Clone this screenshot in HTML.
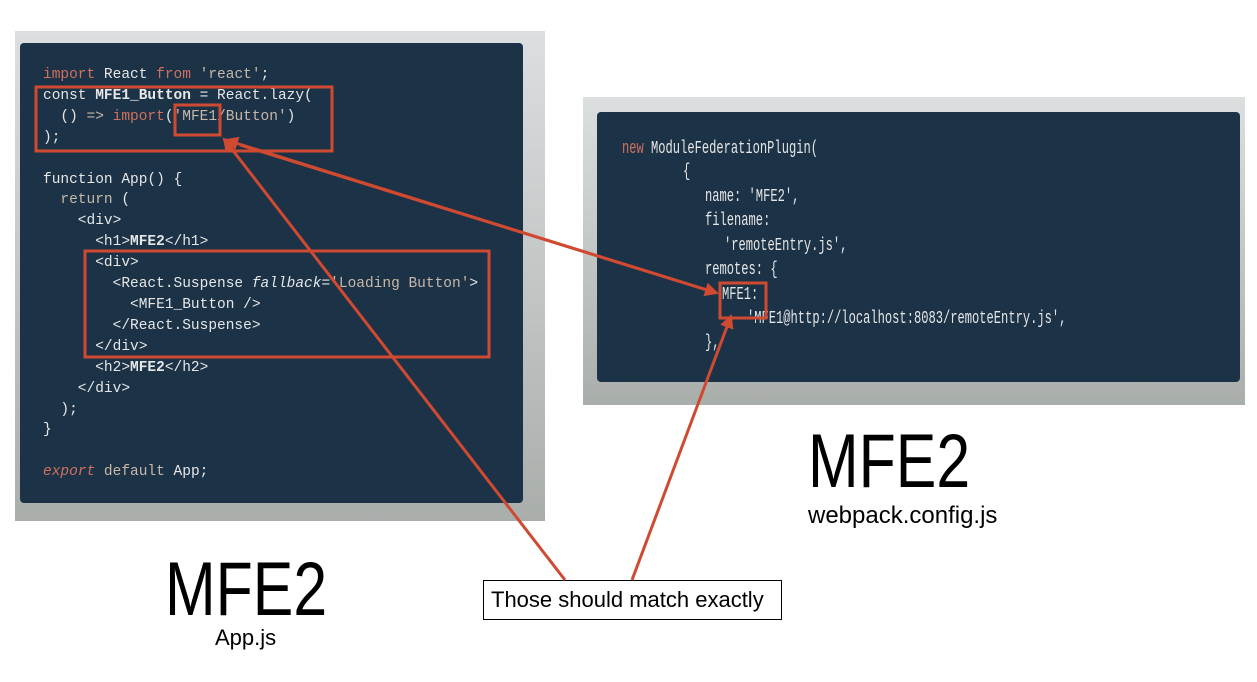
<!DOCTYPE html>
<html><head><meta charset="utf-8"><style>
body{margin:0;width:1257px;height:682px;background:#fff;position:relative;overflow:hidden;font-family:"Liberation Sans",sans-serif}
.frame{position:absolute;background:#c9cdcc}
.panel{position:absolute;background:#1b3247;border-radius:4px}
.code{position:absolute;font-family:"Liberation Mono",monospace;color:#e6e6e6}
.code div{white-space:pre}
.l{position:absolute;white-space:pre;transform:scaleX(0.672);transform-origin:0 0}
.k{color:#d0705e}.g{color:#c8b8a8}.i{font-style:italic}
.big{position:absolute;font-size:76px;color:#000;transform-origin:0 0;transform:scaleX(0.8);line-height:1}
.lbl{position:absolute;color:#000;transform-origin:0 0;line-height:1}
</style></head><body>
<div class="frame" style="left:15px;top:31px;width:530px;height:490px;background:linear-gradient(#dcdfe0,#a9aeab)"></div>
<div class="panel" style="left:20px;top:43px;width:503px;height:460px"></div>
<div class="frame" style="left:583px;top:97px;width:662px;height:308px;background:linear-gradient(#dcdfe0,#a9aeab)"></div>
<div class="panel" style="left:597px;top:112px;width:643px;height:270px"></div>

<div class="code" style="left:43px;top:65px;font-size:14.5px;line-height:20.9px"><div><span class="k">import</span> React <span class="k">from</span> <span class="g">'react'</span>;</div><div>const <b>MFE1_Button</b> = React.lazy(</div><div>  () <span class="g">=&gt;</span> <span class="k">import</span>(<span class="g">'MFE1/Button'</span>)</div><div>);</div><div> </div><div>function App() {</div><div>  <span class="g">return</span> (</div><div>    &lt;div&gt;</div><div>      &lt;h1&gt;<b>MFE2</b>&lt;/h1&gt;</div><div>      &lt;div&gt;</div><div>        &lt;React.Suspense <span class="i">fallback</span>=<span class="g">'Loading Button'</span>&gt;</div><div>          &lt;MFE1_Button /&gt;</div><div>        &lt;/React.Suspense&gt;</div><div>      &lt;/div&gt;</div><div>      &lt;h2&gt;<b>MFE2</b>&lt;/h2&gt;</div><div>    &lt;/div&gt;</div><div>  );</div><div>}</div><div> </div><div><span class="k i">export</span> <span class="g">default</span> App;</div></div>

<div class="code" style="left:0;top:0;font-size:18px;line-height:20px">
<div class="l" style="left:622px;top:139px"><span class="k">new</span> ModuleFederationPlugin(</div>
<div class="l" style="left:683px;top:162px">{</div>
<div class="l" style="left:705px;top:187px">name: 'MFE2',</div>
<div class="l" style="left:705px;top:211px">filename:</div>
<div class="l" style="left:724px;top:236px">'remoteEntry.js',</div>
<div class="l" style="left:705px;top:260px">remotes: {</div>
<div class="l" style="left:722px;top:285px">MFE1:</div>
<div class="l" style="left:747px;top:309px">'MFE1@http://localhost:8083/remoteEntry.js',</div>
<div class="l" style="left:705px;top:333px">},</div>
</div>

<div class="big" style="left:165px;top:552px">MFE2</div>
<div class="lbl" style="left:215px;top:627px;font-size:22px">App.js</div>
<div class="big" style="left:808px;top:424px">MFE2</div>
<div class="lbl" style="left:808px;top:504px;font-size:24px">webpack.config.js</div>
<div style="position:absolute;left:483px;top:580px;width:297px;height:38px;border:1.5px solid #000;background:#fff"></div>
<div class="lbl" style="left:491px;top:589px;font-size:22px">Those should match exactly</div>

<svg width="1257" height="682" style="position:absolute;left:0;top:0">
<defs><marker id="b" markerWidth="14" markerHeight="14" refX="12" refY="7" orient="auto" markerUnits="userSpaceOnUse"><path d="M0,0 L14,7 L0,14z" fill="#d04a32"/></marker></defs>
<g fill="none" stroke="#d04a32" stroke-width="3">
<rect x="36" y="87" width="296" height="64"/>
<rect x="175" y="105" width="45" height="30"/>
<rect x="85" y="251" width="404" height="106"/>
<rect x="720" y="283" width="46" height="35"/>
<line x1="565" y1="580" x2="224" y2="139" marker-end="url(#b)"/>
<line x1="632" y1="580" x2="731" y2="316" marker-end="url(#b)"/>
<line x1="710" y1="291" x2="226" y2="140" marker-end="url(#b)"/>
<line x1="240" y1="145" x2="717" y2="293" marker-end="url(#b)"/>
</g></svg>
</body></html>
